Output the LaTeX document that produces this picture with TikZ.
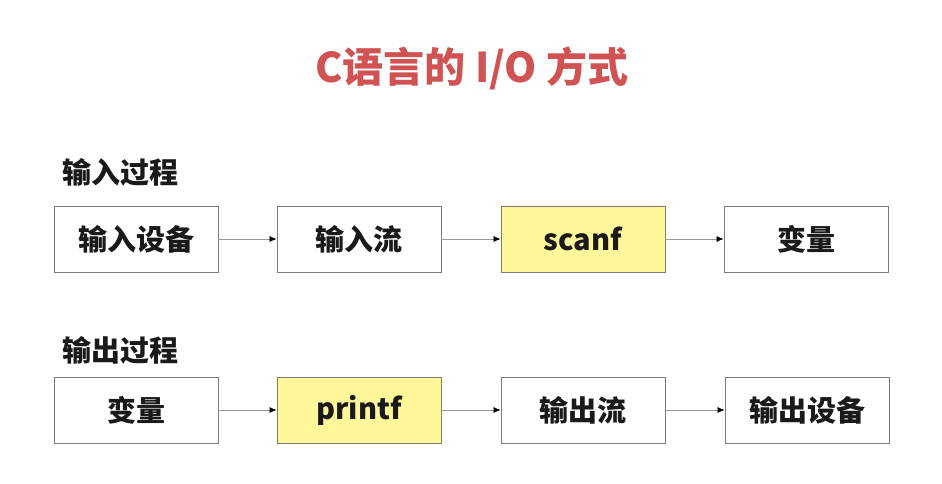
\documentclass[tikz,border=0pt]{standalone}
\usepackage{fontspec}
\usepackage{xcolor}
\setmainfont{Noto Sans CJK SC}
\usetikzlibrary{arrows.meta}

\definecolor{titlered}{HTML}{D05252}
\definecolor{boxyellow}{HTML}{FFF799}
\definecolor{boxline}{HTML}{7A7A7A}
\definecolor{textdark}{HTML}{1A1A1A}

\tikzset{
  stage/.style={draw=boxline, line width=0.9pt, fill=white, minimum width=164pt,
    minimum height=66pt, inner sep=0pt, text=textdark,
    font=\fontsize{29}{32}\selectfont\bfseries},
  func/.style={stage, fill=boxyellow},
  heading/.style={anchor=west, inner sep=0pt, text=textdark,
    font=\fontsize{29}{32}\selectfont\bfseries},
  flow/.style={draw=gray!80, line width=0.6pt, -{Latex[length=7pt,width=6pt,black]}}
}

\begin{document}
\begin{tikzpicture}[x=1pt, y=-1pt]
  \useasboundingbox (0,0) rectangle (942,484);

  \node[text=titlered, font=\fontsize{41}{44}\selectfont\bfseries] (title) at (472,68) {C语言的 I/O 方式};

  % input
  \node[heading] (inhead) at (62,172) {输入过程};
  \node[stage] (in1) at (136,239) {输入设备};
  \node[stage] (in2) at (359,239) {输入流};
  \node[func]  (in3) at (583,239) {scanf};
  \node[stage] (in4) at (806,239) {变量};

  % output
  \node[heading] (outhead) at (62,350) {输出过程};
  \node[stage] (out1) at (136,410) {变量};
  \node[func]  (out2) at (359,410) {printf};
  \node[stage] (out3) at (583,410) {输出流};
  \node[stage] (out4) at (807,410) {输出设备};

  \foreach \a/\b in {in1/in2,in2/in3,in3/in4,out1/out2,out2/out3,out3/out4} {
    \draw[flow] (\a) -- (\b);
  }
\end{tikzpicture}
\end{document}
